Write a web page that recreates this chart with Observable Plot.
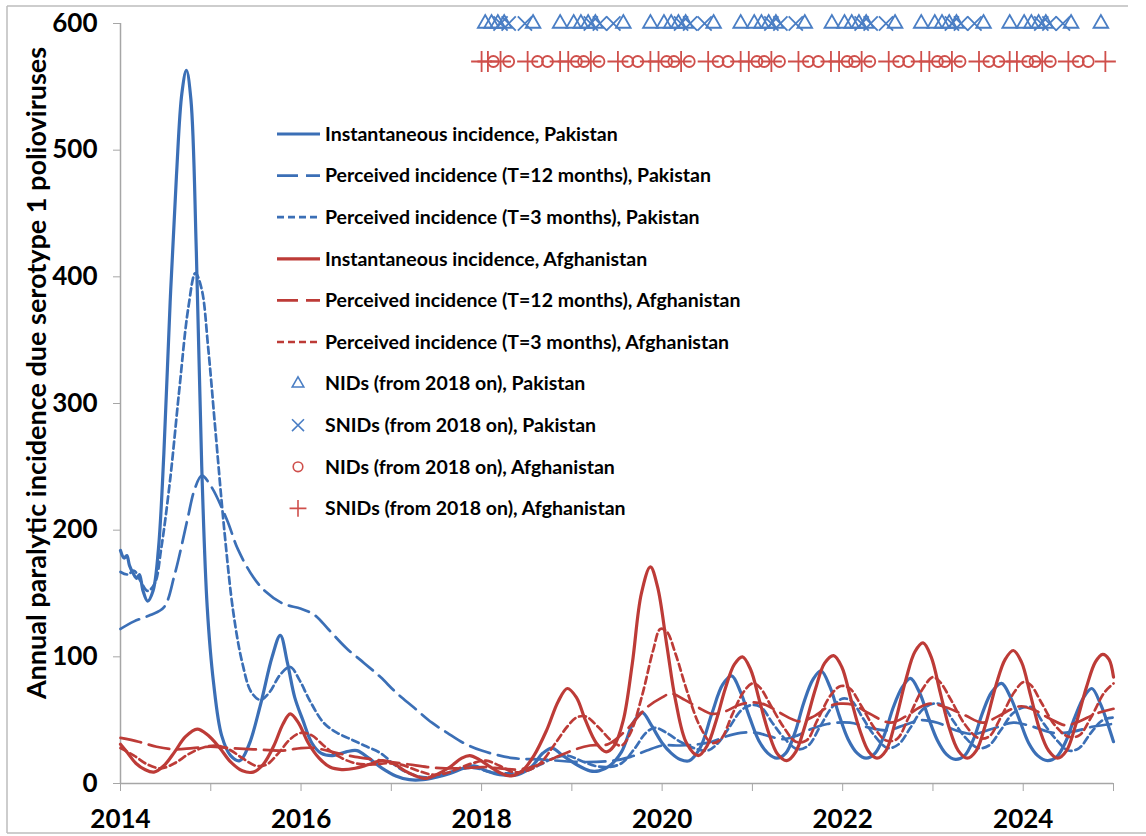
<!DOCTYPE html>
<html>
<head>
<meta charset="utf-8">
<script src="https://cdn.jsdelivr.net/npm/d3@7"></script>
<script src="https://cdn.jsdelivr.net/npm/@observablehq/plot@0.6"></script>
<style>
  body { margin: 0; background: #fff; }
  #chart { position: relative; width: 1146px; height: 836px; }
  #chart svg { display: block; }
</style>
</head>
<body>
<div id="chart"></div>
<script>
// Annual paralytic incidence of serotype 1 poliovirus, Pakistan and Afghanistan.
// Each series is a list of [decimal year, incidence] pairs.

const pakistanInstantaneous = [
  [2014.00,184],[2014.04,178],[2014.07,180],[2014.10,172],[2014.14,166],[2014.18,162],[2014.21,165],
  [2014.25,152],[2014.30,144],[2014.36,152],[2014.42,185],[2014.48,260],[2014.55,380],[2014.62,480],
  [2014.68,545],[2014.73,563],[2014.78,540],[2014.84,420],[2014.90,250],[2014.96,140],[2015.03,80],
  [2015.12,38],[2015.22,22],[2015.32,18],[2015.42,30],[2015.55,62],[2015.68,100],[2015.77,117],
  [2015.85,95],[2015.93,68],[2016.02,50],[2016.12,32],[2016.22,24],[2016.35,22],[2016.50,25],
  [2016.62,26],[2016.75,20],[2016.90,12],[2017.05,6],[2017.20,3],[2017.35,3],[2017.50,5],
  [2017.65,8],[2017.80,12],[2017.92,14],[2018.05,10],[2018.20,7],[2018.40,7],[2018.55,13],
  [2018.68,24],[2018.78,28],[2018.90,22],[2019.05,15],[2019.20,10],[2019.30,10],[2019.42,14],
  [2019.55,25],[2019.68,48],[2019.78,56],[2019.88,46],[2020.00,32],[2020.10,24],[2020.20,19],
  [2020.30,18],[2020.42,28],[2020.55,55],[2020.67,78],[2020.77,85],[2020.87,72],[2020.97,52],
  [2021.07,34],[2021.17,24],[2021.27,20],[2021.37,24],[2021.47,40],[2021.57,64],[2021.67,82],
  [2021.76,89],[2021.86,76],[2021.96,54],[2022.06,35],[2022.16,24],[2022.26,20],[2022.36,24],
  [2022.46,38],[2022.56,60],[2022.66,76],[2022.75,83],[2022.85,72],[2022.95,52],[2023.05,34],
  [2023.15,23],[2023.25,19],[2023.35,22],[2023.45,35],[2023.55,56],[2023.65,72],[2023.76,79],
  [2023.86,68],[2023.96,50],[2024.06,32],[2024.16,22],[2024.27,18],[2024.37,21],[2024.47,33],
  [2024.57,52],[2024.67,68],[2024.76,75],[2024.86,62],[2024.95,44],[2025.00,33]
];

const pakistanPerceived12 = [
  [2014.00,122],[2014.15,128],[2014.33,133],[2014.48,139],[2014.60,165],[2014.74,208],[2014.82,232],
  [2014.90,243],[2015.00,235],[2015.18,208],[2015.30,185],[2015.47,163],[2015.60,152],[2015.80,142],
  [2016.00,138],[2016.15,133],[2016.30,122],[2016.50,107],[2016.70,95],[2016.88,84],[2017.05,72],
  [2017.25,60],[2017.45,48],[2017.62,40],[2017.80,32],[2018.00,26],[2018.35,20],[2018.65,19],
  [2019.10,17],[2019.46,18],[2019.65,21],[2019.83,26],[2020.00,30],[2020.20,30],[2020.40,31],
  [2020.55,33],[2020.70,37],[2020.87,40],[2021.05,40],[2021.20,37],[2021.34,35],[2021.50,38],
  [2021.65,43],[2021.83,47],[2022.08,48],[2022.30,44],[2022.49,42],[2022.68,46],[2022.86,50],
  [2023.05,48],[2023.25,42],[2023.45,39],[2023.65,43],[2023.89,48],[2024.10,45],[2024.33,40],
  [2024.55,41],[2024.78,45],[2025.00,47]
];

const pakistanPerceived3 = [
  [2014.00,167],[2014.08,165],[2014.15,168],[2014.22,160],[2014.30,152],[2014.38,158],[2014.45,185],
  [2014.55,240],[2014.65,310],[2014.75,375],[2014.83,403],[2014.90,390],[2014.97,345],[2015.05,280],
  [2015.15,200],[2015.25,135],[2015.35,95],[2015.45,72],[2015.55,66],[2015.65,72],[2015.77,86],
  [2015.88,92],[2015.98,82],[2016.10,65],[2016.25,48],[2016.40,40],[2016.55,35],[2016.70,30],
  [2016.88,24],[2017.05,14],[2017.20,8],[2017.35,5],[2017.50,6],[2017.65,9],[2017.80,12],
  [2017.95,12],[2018.10,9],[2018.30,8],[2018.50,10],[2018.65,15],[2018.80,20],[2018.95,22],
  [2019.10,18],[2019.25,14],[2019.40,13],[2019.55,16],[2019.70,28],[2019.82,40],[2019.92,44],
  [2020.05,40],[2020.20,33],[2020.35,28],[2020.50,26],[2020.62,32],[2020.75,45],[2020.88,58],
  [2021.00,62],[2021.10,60],[2021.22,48],[2021.35,36],[2021.50,27],[2021.62,30],[2021.75,45],
  [2021.88,60],[2022.00,67],[2022.10,65],[2022.22,52],[2022.35,38],[2022.50,28],[2022.62,31],
  [2022.75,44],[2022.88,58],[2023.00,63],[2023.10,62],[2023.22,50],[2023.35,37],[2023.50,28],
  [2023.62,30],[2023.75,42],[2023.88,55],[2024.00,60],[2024.10,60],[2024.22,48],[2024.35,36],
  [2024.50,26],[2024.62,28],[2024.75,40],[2024.88,50],[2025.00,52]
];

const afghanistanInstantaneous = [
  [2014.00,31],[2014.08,24],[2014.17,16],[2014.27,11],[2014.37,9],[2014.48,14],[2014.60,25],
  [2014.72,37],[2014.85,43],[2014.97,38],[2015.10,28],[2015.22,17],[2015.35,10],[2015.47,9],
  [2015.58,15],[2015.70,30],[2015.80,47],[2015.88,55],[2015.97,48],[2016.08,32],[2016.20,20],
  [2016.32,13],[2016.45,11],[2016.60,12],[2016.75,15],[2016.90,18],[2017.02,16],[2017.15,10],
  [2017.27,6],[2017.37,4],[2017.50,7],[2017.65,13],[2017.78,20],[2017.87,22],[2017.97,19],
  [2018.10,13],[2018.22,8],[2018.33,6],[2018.45,10],[2018.58,22],[2018.72,42],[2018.85,65],
  [2018.95,75],[2019.05,68],[2019.15,50],[2019.27,32],[2019.38,25],[2019.47,30],[2019.57,50],
  [2019.67,95],[2019.77,150],[2019.87,171],[2019.95,155],[2020.05,110],[2020.15,65],[2020.27,32],
  [2020.40,22],[2020.50,30],[2020.60,50],[2020.70,75],[2020.80,94],[2020.89,100],[2020.98,90],
  [2021.08,65],[2021.18,40],[2021.28,23],[2021.38,18],[2021.48,25],[2021.58,45],[2021.70,75],
  [2021.80,95],[2021.90,101],[2021.99,92],[2022.09,67],[2022.19,42],[2022.29,25],[2022.38,20],
  [2022.48,26],[2022.58,48],[2022.70,82],[2022.80,104],[2022.89,111],[2022.98,100],[2023.08,72],
  [2023.18,44],[2023.28,26],[2023.38,20],[2023.48,26],[2023.58,46],[2023.70,78],[2023.80,98],
  [2023.89,105],[2023.98,96],[2024.08,70],[2024.18,43],[2024.28,26],[2024.38,20],[2024.48,26],
  [2024.58,46],[2024.70,76],[2024.80,96],[2024.88,102],[2024.95,98],[2025.00,84]
];

const afghanistanPerceived12 = [
  [2014.00,36],[2014.20,33],[2014.40,29],[2014.60,27],[2014.80,28],[2015.00,29],[2015.20,28],
  [2015.47,27],[2015.80,26],[2016.00,28],[2016.15,28],[2016.40,24],[2016.60,21],[2016.80,19],
  [2017.00,17],[2017.20,15],[2017.40,13],[2017.60,12],[2017.80,12],[2018.00,13],[2018.20,12],
  [2018.40,11],[2018.60,14],[2018.80,20],[2019.00,26],[2019.20,30],[2019.40,31],[2019.60,42],
  [2019.83,60],[2020.00,68],[2020.10,71],[2020.25,66],[2020.40,60],[2020.55,55],[2020.70,57],
  [2020.85,62],[2021.00,64],[2021.15,62],[2021.30,56],[2021.52,49],[2021.68,53],[2021.85,61],
  [2021.97,63],[2022.12,62],[2022.30,55],[2022.53,48],[2022.70,53],[2022.85,60],[2022.97,63],
  [2023.15,60],[2023.35,54],[2023.55,48],[2023.72,53],[2023.88,59],[2023.98,61],[2024.15,57],
  [2024.30,51],[2024.47,46],[2024.62,49],[2024.80,55],[2025.00,59]
];

const afghanistanPerceived3 = [
  [2014.00,28],[2014.15,22],[2014.30,15],[2014.45,12],[2014.60,16],[2014.75,23],[2014.90,28],
  [2015.05,30],[2015.20,27],[2015.35,20],[2015.50,14],[2015.62,15],[2015.75,24],[2015.88,35],
  [2016.00,40],[2016.12,38],[2016.25,30],[2016.40,22],[2016.60,16],[2016.80,15],[2016.95,16],
  [2017.10,15],[2017.30,10],[2017.45,7],[2017.60,8],[2017.75,12],[2017.90,16],[2018.05,18],
  [2018.20,14],[2018.35,9],[2018.50,10],[2018.65,16],[2018.80,30],[2018.95,45],[2019.05,52],
  [2019.15,53],[2019.30,44],[2019.45,33],[2019.55,30],[2019.65,40],[2019.78,70],[2019.90,105],
  [2019.98,122],[2020.05,120],[2020.15,102],[2020.28,72],[2020.42,45],[2020.55,32],[2020.65,35],
  [2020.78,55],[2020.90,72],[2021.00,79],[2021.08,76],[2021.20,62],[2021.35,44],[2021.48,33],
  [2021.60,34],[2021.72,50],[2021.87,70],[2021.98,77],[2022.08,75],[2022.20,62],[2022.35,44],
  [2022.48,34],[2022.60,35],[2022.73,52],[2022.88,74],[2023.00,84],[2023.08,80],[2023.20,66],
  [2023.35,47],[2023.50,36],[2023.62,37],[2023.75,52],[2023.90,72],[2024.00,80],[2024.08,78],
  [2024.20,64],[2024.35,46],[2024.50,37],[2024.62,38],[2024.75,52],[2024.90,72],[2025.00,79]
];

// Vaccination campaign dates (decimal years), drawn as rows of symbols near the top
const nidsPakistan = [
  2018.04,2018.11,2018.18,2018.25,2018.57,2018.87,
  2019.02,2019.10,2019.18,2019.26,2019.57,2019.87,
  2020.02,2020.10,2020.18,2020.26,2020.57,2020.87,
  2021.02,2021.10,2021.18,2021.26,2021.58,2021.88,
  2022.02,2022.10,2022.18,2022.26,2022.58,2022.87,
  2023.02,2023.10,2023.18,2023.26,2023.56,2023.85,
  2024.01,2024.09,2024.17,2024.25,2024.53,2024.86
];
const snidsPakistan = [
  2018.21,2018.30,2018.48,
  2019.21,2019.31,2019.46,
  2020.21,2020.31,2020.47,
  2021.21,2021.31,2021.48,
  2022.21,2022.31,2022.48,
  2023.21,2023.31,2023.46,
  2024.20,2024.29,2024.44
];
const nidsAfghanistan = [
  2018.13,2018.30,2018.62,2018.73,
  2019.05,2019.13,2019.30,2019.62,2019.73,
  2020.05,2020.13,2020.30,2020.62,2020.73,
  2021.05,2021.13,2021.30,2021.62,2021.73,
  2022.05,2022.13,2022.30,2022.62,2022.73,
  2023.05,2023.13,2023.30,2023.62,2023.73,
  2024.05,2024.13,2024.30,2024.61,2024.72
];
const snidsAfghanistan = [
  2018.00,2018.07,2018.21,2018.51,2018.87,2018.96,
  2019.21,2019.51,2019.87,2019.96,
  2020.21,2020.51,2020.87,2020.96,
  2021.21,2021.51,2021.87,2021.96,
  2022.21,2022.51,2022.87,2022.96,
  2023.21,2023.51,2023.85,2023.93,
  2024.21,2024.50,2024.91
];
const campaignLevelPakistan = 600;
const campaignLevelAfghanistan = 570;

const yearTicks = [2014,2015,2016,2017,2018,2019,2020,2021,2022,2023,2024,2025];
const valueTicks = [0,100,200,300,400,500,600];

const blue = "#3b6fb6";
const red = "#bd3b37";
const blueMarker = "#4a7ec4";
const redMarker = "#cf4f4b";
const dashLong = "21,8";
const dashShort = "7,4";

const seriesStyles = [
  {label: "Instantaneous incidence, Pakistan", data: pakistanInstantaneous, stroke: blue, dash: null, width: 3.2},
  {label: "Perceived incidence (T=12 months), Pakistan", data: pakistanPerceived12, stroke: blue, dash: dashLong, width: 2.7},
  {label: "Perceived incidence (T=3 months), Pakistan", data: pakistanPerceived3, stroke: blue, dash: dashShort, width: 2.7},
  {label: "Instantaneous incidence, Afghanistan", data: afghanistanInstantaneous, stroke: red, dash: null, width: 3.2},
  {label: "Perceived incidence (T=12 months), Afghanistan", data: afghanistanPerceived12, stroke: red, dash: dashLong, width: 2.7},
  {label: "Perceived incidence (T=3 months), Afghanistan", data: afghanistanPerceived3, stroke: red, dash: dashShort, width: 2.7}
];
const markerStyles = [
  {label: "NIDs (from 2018 on), Pakistan", dates: nidsPakistan, level: campaignLevelPakistan, symbol: "triangle2", color: blueMarker, r: 7, legendR: 5.5},
  {label: "SNIDs (from 2018 on), Pakistan", dates: snidsPakistan, level: campaignLevelPakistan, symbol: "times", color: blueMarker, r: 6.5, legendR: 5.5},
  {label: "NIDs (from 2018 on), Afghanistan", dates: nidsAfghanistan, level: campaignLevelAfghanistan, symbol: "circle", color: redMarker, r: 5.5, legendR: 4.8},
  {label: "SNIDs (from 2018 on), Afghanistan", dates: snidsAfghanistan, level: campaignLevelAfghanistan, symbol: "plus", color: redMarker, r: 6.8, legendR: 5.5}
];

const font = "Lato, 'Open Sans', sans-serif";

const lineMarks = seriesStyles.map(s => Plot.line(s.data, {
  x: d => d[0], y: d => d[1],
  stroke: s.stroke, strokeWidth: s.width, strokeDasharray: s.dash,
  curve: "catmull-rom", strokeLinejoin: "round"
}));
const dotMarks = markerStyles.map(m => Plot.dot(m.dates, {
  x: d => d, y: () => m.level,
  symbol: m.symbol, r: m.r, stroke: m.color, strokeWidth: 1.8, fill: "none"
}));

const chart = Plot.plot({
  width: 1146,
  height: 836,
  marginLeft: 120,
  marginRight: 33,
  marginTop: 23,
  marginBottom: 53,
  style: {fontFamily: font, background: "#fff", color: "#000"},
  x: {domain: [2014, 2025]},
  y: {domain: [0, 600]},
  marks: [
    Plot.ruleY([0], {stroke: "#a6a6a6", strokeWidth: 1.5}),
    Plot.ruleX([2014], {stroke: "#a6a6a6", strokeWidth: 1.5}),
    Plot.axisX({
      ticks: yearTicks, tickSize: 8, tickPadding: 18,
      tickFormat: d => d % 2 === 0 ? String(d) : "",
      stroke: "#a6a6a6", fill: "#000", fontSize: 26, fontWeight: "bold", label: null
    }),
    Plot.axisY({
      ticks: valueTicks, tickSize: 7, tickPadding: 16,
      tickFormat: d => String(d),
      stroke: "#a6a6a6", fill: "#000", fontSize: 26, fontWeight: "bold", label: null
    }),
    ...lineMarks,
    ...dotMarks
  ]
});

document.getElementById("chart").appendChild(chart);

// Outer frame, axis title and legend drawn into the same SVG
const svg = d3.select(chart);
const frame = svg.append("g").attr("stroke", "#bdbdbd").attr("stroke-width", 1.5);
frame.append("line").attr("x1", 7).attr("y1", 6).attr("x2", 7).attr("y2", 833);
frame.append("line").attr("x1", 7).attr("y1", 6).attr("x2", 1128).attr("y2", 6);
frame.append("line").attr("x1", 7).attr("y1", 833).attr("x2", 1146).attr("y2", 833);

svg.append("text")
  .attr("transform", "translate(39,373) rotate(-90)")
  .attr("text-anchor", "middle")
  .attr("dominant-baseline", "middle")
  .attr("font-family", font)
  .attr("font-size", 27)
  .attr("font-weight", "bold")
  .attr("fill", "#000")
  .text("Annual paralytic incidence due serotype 1 polioviruses");

const legend = svg.append("g")
  .attr("font-family", font)
  .attr("font-size", 19.5)
  .attr("font-weight", "bold")
  .attr("text-anchor", "start");
const rowY = i => 134 + 41.6 * i;
seriesStyles.forEach((s, i) => {
  const y = rowY(i);
  legend.append("line")
    .attr("x1", 277).attr("x2", 320).attr("y1", y).attr("y2", y)
    .attr("stroke", s.stroke).attr("stroke-width", s.width)
    .attr("stroke-dasharray", s.dash);
  legend.append("text").attr("x", 325).attr("y", y).attr("dy", "0.35em").attr("fill", "#000").text(s.label);
});
markerStyles.forEach((m, j) => {
  const i = j + seriesStyles.length;
  const y = rowY(i);
  const symbolType = {triangle2: d3.symbolTriangle2, times: d3.symbolTimes, circle: d3.symbolCircle, plus: d3.symbolPlus}[m.symbol];
  legend.append("path")
    .attr("transform", `translate(298,${y})`)
    .attr("d", d3.symbol(symbolType, Math.PI * m.legendR ** 2)())
    .attr("fill", "none").attr("stroke", m.color).attr("stroke-width", 1.6);
  legend.append("text").attr("x", 325).attr("y", y).attr("dy", "0.35em").attr("fill", "#000").text(m.label);
});
</script>
</body>
</html>
